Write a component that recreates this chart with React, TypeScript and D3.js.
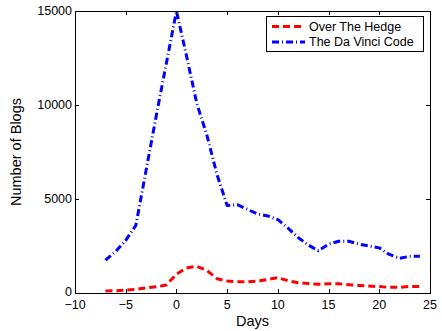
import React, { useEffect, useRef } from 'react';
import * as d3 from 'd3';

const days = [-7, -6, -5, -4, -3, -2, -1, 0, 1, 2, 3, 4, 5, 6, 7, 8, 9, 10, 11, 12, 13, 14, 15, 16, 17, 18, 19, 20, 21, 22, 23, 24];
const hedge = [100, 120, 150, 200, 270, 330, 420, 1000, 1330, 1420, 1200, 760, 640, 600, 600, 640, 720, 820, 650, 550, 500, 460, 490, 490, 440, 400, 370, 340, 300, 300, 350, 350];
const davinci = [1750, 2200, 2800, 3600, 6500, 9400, 12200, 15000, 12600, 10100, 8400, 6300, 4650, 4700, 4450, 4200, 4100, 3900, 3450, 2950, 2550, 2250, 2600, 2750, 2750, 2600, 2500, 2400, 2050, 1850, 1950, 1950];
const xTicks = [-10, -5, 0, 5, 10, 15, 20, 25];
const yTicks = [0, 5000, 10000, 15000];
const seriesNames = ['Over The Hedge', 'The Da Vinci Code'];

const W = 442;
const H = 331;
const margin = { top: 11, right: 12, bottom: 38, left: 75 };
const font = '"Liberation Sans", Arial, Helvetica, sans-serif';

const App = () => {
  const svgRef = useRef<SVGSVGElement>(null);

  useEffect(() => {
    const svg = d3.select(svgRef.current);
    svg.selectAll('*').remove();

    const x = d3.scaleLinear().domain([-10, 25]).range([margin.left, W - margin.right]);
    const y = d3.scaleLinear().domain([0, 15000]).range([H - margin.bottom, margin.top]);
    const [x0, x1] = x.range();
    const [y0, y1] = y.range();

    svg.append('rect').attr('width', W).attr('height', H).attr('fill', 'white');

    const series = [
      { name: seriesNames[0], values: hedge, color: '#ff0000', dash: '7,4' },
      { name: seriesNames[1], values: davinci, color: '#0000ff', dash: '7,3,1,3' },
    ];

    const line = d3.line<number>()
      .x((d, i) => x(days[i]))
      .y(d => y(d));

    svg.append('g')
      .selectAll('path')
      .data(series)
      .join('path')
      .attr('fill', 'none')
      .attr('stroke', d => d.color)
      .attr('stroke-width', 3)
      .attr('stroke-dasharray', d => d.dash)
      .attr('stroke-linejoin', 'round')
      .attr('d', d => line(d.values));

    // box + inward ticks on all four sides
    const axes = svg.append('g').attr('stroke', 'black').attr('stroke-width', 1);
    axes.append('rect')
      .attr('x', x0 + 0.5).attr('y', y1 + 0.5)
      .attr('width', x1 - x0).attr('height', y0 - y1)
      .attr('fill', 'none');
    xTicks.forEach(t => {
      const px = Math.round(x(t)) + 0.5;
      axes.append('line').attr('x1', px).attr('x2', px).attr('y1', y0).attr('y2', y0 - 4);
      axes.append('line').attr('x1', px).attr('x2', px).attr('y1', y1).attr('y2', y1 + 4);
    });
    yTicks.forEach(t => {
      const py = Math.round(y(t)) + 0.5;
      axes.append('line').attr('x1', x0).attr('x2', x0 + 4).attr('y1', py).attr('y2', py);
      axes.append('line').attr('x1', x1).attr('x2', x1 - 4).attr('y1', py).attr('y2', py);
    });

    const labels = svg.append('g').style('font', `12.5px ${font}`).attr('fill', 'black');
    labels.selectAll('.xt')
      .data(xTicks)
      .join('text')
      .attr('x', d => x(d))
      .attr('y', y0 + 16)
      .attr('text-anchor', 'middle')
      .text(d => (d < 0 ? '\u2212' + Math.abs(d) : String(d)));
    labels.selectAll('.yt')
      .data(yTicks)
      .join('text')
      .attr('x', x0 - 3)
      .attr('y', d => (d === 0 ? y(d) - 1 : y(d)))
      .attr('dy', '0.35em')
      .attr('text-anchor', 'end')
      .text(d => String(d));

    svg.append('text')
      .style('font', `14.5px ${font}`)
      .attr('x', (x0 + x1) / 2)
      .attr('y', y0 + 33)
      .attr('text-anchor', 'middle')
      .text('Days');
    svg.append('text')
      .style('font', `14.5px ${font}`)
      .attr('transform', `translate(21,${(y0 + y1) / 2}) rotate(-90)`)
      .attr('text-anchor', 'middle')
      .text('Number of Blogs');

    // legend
    const lg = svg.append('g').attr('transform', 'translate(266,16)');
    lg.append('rect')
      .attr('x', 0.5).attr('y', 0.5)
      .attr('width', 157).attr('height', 35)
      .attr('fill', 'white').attr('stroke', 'black');
    series.forEach((s, i) => {
      const ly = 10.5 + i * 15.5;
      lg.append('line')
        .attr('x1', 6).attr('x2', 39)
        .attr('y1', ly).attr('y2', ly)
        .attr('stroke', s.color).attr('stroke-width', 3)
        .attr('stroke-dasharray', s.dash);
      lg.append('text')
        .style('font', `12.5px ${font}`)
        .attr('x', 43).attr('y', ly)
        .attr('dy', '0.35em')
        .text(s.name);
    });
  }, []);

  return (
    <svg
      ref={svgRef}
      width={W}
      height={H}
      style={{ position: 'absolute', left: 0, top: 0 }}
    />
  );
};

export default App;
